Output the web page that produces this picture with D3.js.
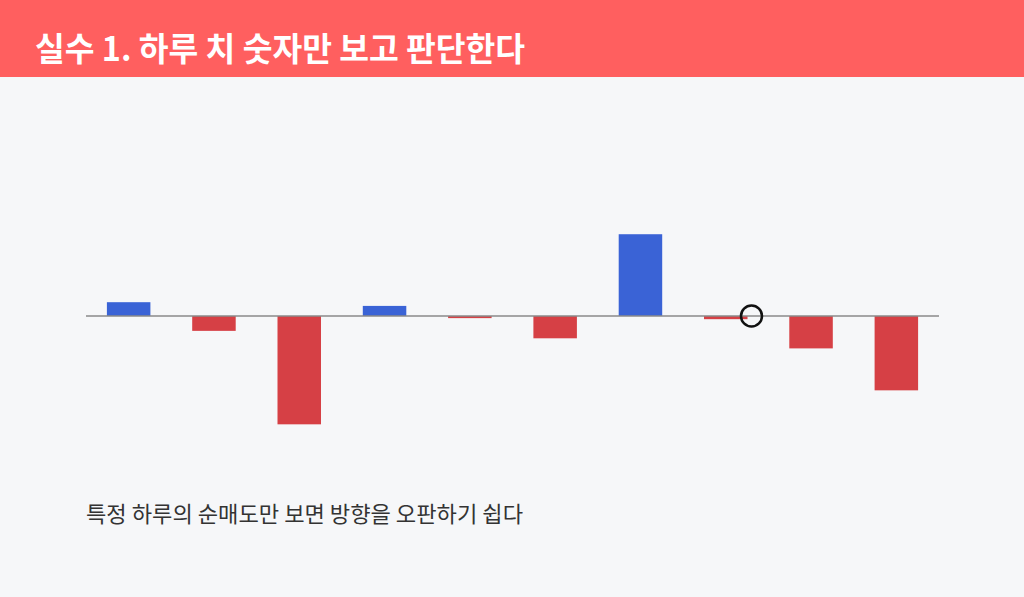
<!DOCTYPE html>
<html><head><meta charset="utf-8">
<script src="https://cdn.jsdelivr.net/npm/d3@7"></script>
<style>
html,body{margin:0;padding:0;background:#F6F7F9;}
svg{display:block;}
</style></head>
<body>
<svg id="chart" width="1024" height="597"></svg>
<script>
const title = "실수 1. 하루 치 숫자만 보고 판단한다";
const caption = "특정 하루의 순매도만 보면 방향을 오판하기 쉽다";
const days = ["D1","D2","D3","D4","D5","D6","D7","D8","D9","D10"];
const netFlow = [130, -140, -1020, 95, -20, -210, 770, -30, -305, -700];
const highlightDay = "D8";

const svg = d3.select("#chart");
const W = 1024, H = 597;
svg.append("rect").attr("width", W).attr("height", H).attr("fill", "#F6F7F9");
svg.append("rect").attr("width", W).attr("height", 77).attr("fill", "#FF5F5F");
const t = svg.append("text").attr("x", 35).attr("y", 61)
  .attr("font-family", "'Noto Sans CJK KR','Noto Sans',sans-serif")
  .attr("font-weight", 700).attr("font-size", 33).attr("fill", "#fff")
  .text(title);
// fit to measured reference width
t.attr("textLength", 490).attr("lengthAdjust", "spacingAndGlyphs");

const x = d3.scaleBand().domain(days).range([86, 939]).paddingInner(0.49).paddingOuter(0.245);
const y = d3.scaleLinear().domain([-1000, 1000]).range([316 + 106.2, 316 - 106.2]);

svg.append("g").selectAll("rect").data(days).join("rect")
  .attr("x", d => x(d))
  .attr("width", x.bandwidth())
  .attr("y", (d, i) => Math.min(y(netFlow[i]), y(0)))
  .attr("height", (d, i) => Math.abs(y(netFlow[i]) - y(0)))
  .attr("fill", (d, i) => netFlow[i] >= 0 ? "#3A63D6" : "#D64045");

svg.append("line").attr("x1", 86).attr("x2", 939).attr("y1", y(0)).attr("y2", y(0))
  .attr("stroke", "#8A8A8A").attr("stroke-width", 1.5);

svg.append("circle").attr("cx", x(highlightDay) + x.bandwidth() + 4).attr("cy", y(0)).attr("r", 10.5)
  .attr("fill", "none").attr("stroke", "#111").attr("stroke-width", 2.5);

const c = svg.append("text").attr("x", 86).attr("y", 522)
  .attr("font-family", "'Noto Sans CJK KR','Noto Sans',sans-serif")
  .attr("font-size", 22).attr("fill", "#333")
  .text(caption);
c.attr("textLength", 437).attr("lengthAdjust", "spacingAndGlyphs");
</script>
</body></html>
